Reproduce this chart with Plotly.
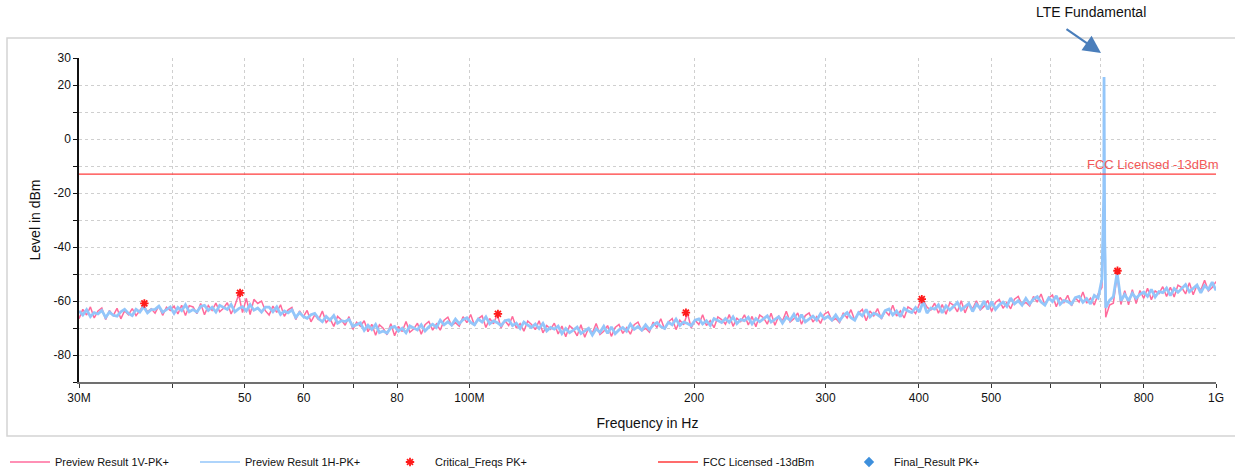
import numpy as np
import plotly.graph_objects as go

# Receiver sweep: 300 log-spaced points from 30 MHz to 1 GHz
SWEEP_START_HZ = 30e6
SWEEP_STOP_HZ = 1e9

# Peak level (dBm) of the vertical-antenna preview scan, one value per sweep point
level_1v_dbm = [
    -66.6, -63.1, -65.2, -62.2, -66.3, -63.7, -62.6, -66.9, -63.5, -65.4,
    -62.7, -66.6, -63.6, -65.1, -62.8, -65.4, -63.5, -61.5, -63.9, -62.9,
    -64.5, -61.8, -65.3, -62.3, -63.5, -61.9, -64.8, -61.6, -65.4, -61.7,
    -62.2, -64.7, -60.9, -65.1, -61.7, -63.5, -60.8, -64.0, -62.7, -60.6,
    -64.8, -61.7, -57.6, -64.3, -59.0, -65.0, -59.4, -60.9, -60.0, -63.6,
    -65.2, -61.9, -64.2, -61.4, -65.7, -63.3, -62.4, -66.9, -63.7, -65.8,
    -63.5, -67.7, -65.1, -67.0, -63.7, -68.0, -66.5, -69.4, -65.7, -67.0,
    -69.0, -65.8, -70.5, -67.9, -69.4, -67.3, -71.4, -68.6, -72.7, -68.8,
    -70.1, -72.5, -68.4, -72.9, -69.4, -71.3, -67.6, -71.6, -70.4, -68.2,
    -72.3, -68.8, -67.6, -70.8, -68.5, -70.8, -67.1, -66.0, -69.1, -68.0,
    -69.3, -65.8, -68.0, -65.0, -69.1, -66.6, -65.5, -69.8, -66.5, -68.4,
    -64.9, -70.0, -67.3, -69.1, -65.7, -70.0, -68.4, -71.2, -67.4, -68.7,
    -70.6, -67.3, -71.8, -69.1, -70.5, -68.2, -72.2, -69.3, -73.2, -69.2,
    -70.4, -72.9, -68.8, -73.4, -70.0, -71.9, -68.3, -72.4, -71.2, -69.1,
    -73.1, -69.8, -68.7, -72.0, -69.9, -72.3, -68.8, -67.8, -71.0, -70.1,
    -71.5, -67.8, -69.8, -66.6, -70.5, -67.8, -66.5, -70.6, -67.1, -68.8,
    -64.5, -70.0, -67.1, -68.7, -65.1, -69.1, -67.3, -69.9, -65.9, -66.9,
    -68.6, -65.0, -69.4, -66.4, -67.6, -65.1, -68.9, -65.7, -69.5, -65.2,
    -66.2, -68.6, -64.5, -69.0, -65.6, -67.4, -63.8, -67.8, -66.6, -64.4,
    -68.6, -65.4, -64.4, -67.8, -65.8, -68.3, -64.9, -64.0, -67.3, -66.5,
    -68.0, -64.4, -66.3, -63.2, -67.1, -64.4, -63.1, -67.3, -63.7, -65.5,
    -62.8, -66.7, -63.7, -65.3, -61.6, -65.6, -63.7, -66.3, -62.2, -63.1,
    -64.7, -61.1, -59.6, -62.3, -63.4, -60.8, -64.5, -61.3, -64.9, -60.6,
    -61.6, -64.0, -59.9, -64.4, -61.0, -62.9, -59.9, -63.3, -62.0, -59.8,
    -63.9, -60.5, -59.4, -62.7, -60.5, -62.9, -59.3, -58.3, -61.5, -60.5,
    -61.8, -58.3, -60.4, -57.4, -61.5, -58.9, -57.8, -62.1, -58.7, -60.6,
    -57.9, -61.8, -58.8, -60.4, -56.7, -60.8, -58.9, -61.5, -57.4, -55.0,
    -66.0, -61.5, -60.8, -50.5, -61.3, -56.2, -61.4, -55.8, -60.9, -56.1,
    -59.0, -55.3, -59.5, -56.3, -57.3, -54.7, -58.3, -54.9, -58.5, -54.1,
    -55.0, -57.4, -53.2, -57.7, -54.2, -56.0, -52.3, -56.3, -55.0, -52.8,
]

# Peak level (dBm) of the horizontal-antenna preview scan, one value per sweep point
level_1h_dbm = [
    -63.7, -65.2, -63.2, -65.8, -64.3, -64.8, -63.5, -66.1, -64.1, -65.3,
    -65.6, -64.0, -63.1, -64.6, -65.4, -63.1, -64.1, -62.1, -64.4, -63.2,
    -63.1, -61.9, -64.2, -63.2, -62.2, -64.6, -62.4, -63.6, -61.4, -64.0,
    -63.2, -64.1, -62.0, -61.6, -63.5, -62.3, -64.1, -61.6, -62.4, -63.1,
    -61.3, -64.0, -62.8, -62.1, -63.7, -61.3, -63.4, -62.6, -64.1, -62.3,
    -62.3, -64.0, -62.2, -65.0, -63.7, -64.4, -63.3, -66.1, -64.3, -65.8,
    -66.4, -65.1, -64.6, -66.5, -67.7, -65.7, -67.1, -65.4, -68.2, -67.3,
    -67.6, -66.8, -69.4, -68.8, -68.1, -70.9, -69.0, -70.6, -68.7, -71.7,
    -71.1, -71.9, -69.9, -69.4, -71.2, -70.1, -71.8, -69.2, -70.1, -70.7,
    -68.8, -71.1, -69.6, -68.6, -69.8, -67.1, -68.8, -67.7, -68.9, -66.7,
    -68.4, -66.9, -66.2, -67.9, -68.8, -66.7, -67.8, -65.9, -68.5, -67.4,
    -68.0, -69.1, -67.3, -67.0, -69.1, -68.2, -70.2, -67.8, -68.9, -69.8,
    -68.5, -70.2, -68.3, -71.1, -69.8, -70.4, -69.3, -72.1, -70.2, -71.7,
    -70.8, -69.7, -72.0, -71.1, -70.1, -72.6, -70.3, -71.6, -69.4, -72.0,
    -69.6, -72.1, -70.7, -69.8, -71.2, -68.6, -70.5, -69.5, -70.8, -68.8,
    -70.6, -68.9, -68.0, -69.5, -70.2, -67.9, -68.8, -66.7, -69.1, -67.8,
    -68.3, -69.1, -67.1, -66.6, -68.5, -67.3, -69.1, -66.5, -67.4, -68.0,
    -66.5, -67.9, -65.9, -68.4, -66.9, -67.3, -66.0, -68.5, -66.5, -67.7,
    -66.6, -65.5, -67.8, -66.8, -65.8, -68.2, -66.0, -67.1, -64.9, -67.5,
    -65.1, -67.7, -66.5, -65.6, -67.1, -64.7, -66.6, -65.7, -67.1, -65.2,
    -67.3, -65.4, -64.3, -66.2, -67.1, -64.3, -65.5, -63.1, -65.9, -64.5,
    -65.1, -66.1, -63.6, -63.0, -65.2, -63.7, -65.8, -62.7, -63.7, -64.3,
    -62.4, -64.1, -60.2, -64.5, -62.6, -63.0, -61.4, -64.4, -61.8, -63.3,
    -62.0, -60.5, -63.3, -62.2, -60.9, -63.9, -61.2, -62.7, -60.0, -63.1,
    -60.2, -63.1, -61.4, -60.4, -62.0, -58.9, -61.1, -59.9, -61.5, -59.0,
    -61.1, -59.3, -58.4, -60.4, -61.5, -58.9, -60.2, -58.1, -61.2, -59.8,
    -60.2, -61.2, -58.8, -58.3, -60.5, -59.1, -61.1, -57.9, -58.9, -52.0,
    -62.5, -59.8, -58.4, -49.5, -59.9, -57.6, -59.9, -57.2, -59.0, -57.5,
    -56.7, -58.3, -55.7, -58.5, -56.5, -56.9, -55.2, -58.0, -55.4, -56.8,
    -55.4, -53.9, -56.6, -55.4, -54.1, -57.0, -54.3, -55.7, -53.0, -56.1,
]

# Extra fine-resolution points across the LTE carrier
carrier_freq_mhz = [705.0, 706.5, 707.5, 708.0, 708.5, 709.5, 710.5]
carrier_1v_dbm = [-45.0, -40.0, -25.0, 20.0, -25.0, -45.0, -55.0]
carrier_1h_dbm = [-40.0, -37.0, -20.0, 23.0, -20.0, -38.0, -45.0]

# Critical frequencies flagged by the peak search
critical_freq_mhz = [36.7, 49.3, 109.2, 195.0, 403.6, 738.0]
critical_level_dbm = [-60.9, -57.0, -64.8, -64.3, -59.3, -48.8]

# Final measurement results (none outside the carrier)
final_freq_mhz = []
final_level_dbm = []

FCC_LIMIT_DBM = -13

# Axis ticks
x_tick_hz = [30e6, 40e6, 50e6, 60e6, 70e6, 80e6, 100e6, 200e6, 300e6,
             400e6, 500e6, 600e6, 700e6, 800e6, 1e9]
x_tick_text = ["30M", "", "50", "60", "", "80", "100M", "200", "300",
               "400", "500", "", "", "800", "1G"]
y_tick_vals = [-90, -80, -70, -60, -50, -40, -30, -20, -10, 0, 10, 20, 30]
y_tick_text = ["", "-80", "", "-60", "", "-40", "", "-20", "", "0", "", "20", "30"]

PINK = "#ff6b9c"
BLUE = "#93c6fa"
RED = "#ff3b3b"

# merge the sweep grid with the carrier detail points
sweep_hz = np.geomspace(SWEEP_START_HZ, SWEEP_STOP_HZ, len(level_1h_dbm))
carrier_hz = np.array(carrier_freq_mhz) * 1e6
freq_hz = np.concatenate([sweep_hz, carrier_hz])
order = np.argsort(freq_hz)
freq_hz = freq_hz[order]
trace_1v = np.concatenate([level_1v_dbm, carrier_1v_dbm])[order]
trace_1h = np.concatenate([level_1h_dbm, carrier_1h_dbm])[order]

fig = go.Figure()
fig.add_trace(go.Scatter(
    x=freq_hz, y=trace_1v, mode="lines", name="Preview Result 1V-PK+",
    line=dict(color=PINK, width=1.5), legend="legend"))
# the dense horizontal scan is drawn heavier; its legend key uses a thin line
fig.add_trace(go.Scatter(
    x=freq_hz, y=trace_1h, mode="lines", name="Preview Result 1H-PK+",
    line=dict(color=BLUE, width=2.8), showlegend=False,
    legendgroup="h"))
fig.add_trace(go.Scatter(
    x=[None], y=[None], mode="lines", name="Preview Result 1H-PK+",
    line=dict(color=BLUE, width=1.5), legend="legend2", legendgroup="h"))
fig.add_trace(go.Scatter(
    x=np.array(critical_freq_mhz) * 1e6, y=critical_level_dbm, mode="markers",
    name="Critical_Freqs PK+", legend="legend3",
    marker=dict(symbol="asterisk-open", size=7, color="#ff1a1a",
                line=dict(color="#ff1a1a", width=1.8))))
fig.add_trace(go.Scatter(
    x=[SWEEP_START_HZ, SWEEP_STOP_HZ], y=[FCC_LIMIT_DBM, FCC_LIMIT_DBM],
    mode="lines", name="FCC Licensed -13dBm", legend="legend4",
    line=dict(color=RED, width=1.3)))
fig.add_trace(go.Scatter(
    x=[f * 1e6 for f in final_freq_mhz] or [None],
    y=final_level_dbm or [None], mode="markers",
    name="Final_Result PK+", legend="legend5",
    marker=dict(symbol="diamond", size=8, color="#3d8fdc")))

X0, X1 = 79, 1216   # plot area in pixels
Y0, Y1 = 382, 58


def px_x(p):
    return (p - X0) / (X1 - X0)


def px_y(p):
    return (Y0 - p) / (Y0 - Y1)


legend_common = dict(orientation="h", yanchor="middle", xanchor="left",
                     y=px_y(462), bgcolor="rgba(0,0,0,0)",
                     font=dict(size=11, color="#111"), itemwidth=40)
legend_text_px = [60, 250, 440, 708, 899]
legend_keys = ["legend", "legend2", "legend3", "legend4", "legend5"]
legend_layout = {k: dict(legend_common, x=px_x(t - 55))
                 for k, t in zip(legend_keys, legend_text_px)}

fig.update_layout(
    width=1235, height=474,
    margin=dict(l=X0, r=1235 - X1, t=Y1, b=474 - Y0, autoexpand=False),
    paper_bgcolor="white", plot_bgcolor="white",
    font=dict(family="Liberation Sans, Arial, sans-serif", size=12, color="#111"),
    showlegend=True,
    **legend_layout,
    xaxis=dict(
        type="log", range=[np.log10(SWEEP_START_HZ), np.log10(SWEEP_STOP_HZ)],
        tickvals=x_tick_hz, ticktext=x_tick_text, ticks="outside", ticklen=4,
        tickcolor="#333", showgrid=True, gridcolor="#cfcfcf", griddash="dot",
        gridwidth=1, showline=True, linecolor="#707070", linewidth=2,
        zeroline=False, tickfont=dict(size=12), automargin=False,
        title=dict(text="Frequency in Hz", font=dict(size=14), standoff=14)),
    yaxis=dict(
        range=[-90, 30], tickvals=y_tick_vals, ticktext=y_tick_text,
        ticks="outside", ticklen=4, tickcolor="#111",
        showgrid=True, gridcolor="#cfcfcf", griddash="dot", gridwidth=1,
        showline=True, linecolor="#111", linewidth=1.5, zeroline=False,
        tickfont=dict(size=12), automargin=False,
        title=dict(text="Level in dBm", font=dict(size=14), standoff=10)),
    shapes=[dict(type="rect", xref="paper", yref="paper",
                 x0=px_x(7), x1=px_x(1236), y0=px_y(436), y1=px_y(38),
                 line=dict(color="#d4d4d4", width=1.5), layer="below")],
    annotations=[
        dict(text="LTE Fundamental", xref="paper", yref="paper",
             x=px_x(1091), y=px_y(12), xanchor="center", yanchor="middle",
             showarrow=False, font=dict(size=14, color="#111")),
        dict(text="", xref="paper", yref="paper", x=px_x(1101), y=px_y(53),
             ax=-36, ay=-25, showarrow=True, arrowhead=2, arrowsize=1.6,
             arrowwidth=2.2, arrowcolor="#4a7ebb"),
        dict(text="FCC Licensed -13dBm", xref="paper", yref="y",
             x=px_x(1221), y=FCC_LIMIT_DBM, xanchor="right", yanchor="bottom",
             showarrow=False, font=dict(size=13, color="#f25858")),
    ],
)

fig.write_html("out.html")
